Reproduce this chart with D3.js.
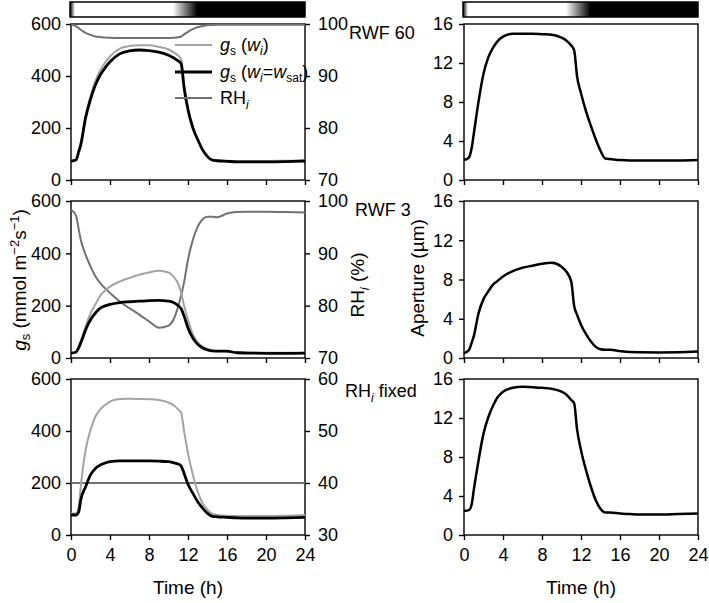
<!DOCTYPE html>
<html>
<head>
<meta charset="utf-8">
<script src="https://cdn.jsdelivr.net/npm/d3@7"></script>
<style>
  body { margin: 0; background: #fff; }
  svg { font-family: "Liberation Sans", Arial, sans-serif; }
  .axis text { font-size: 18px; fill: #000; }
  .axis path, .axis line { stroke: #000; stroke-width: 1.4px; }
</style>
</head>
<body>
<div id="chart"></div>
<script>

// Time grid (h) shared by all series
const time = [0, 0.5, 0.8, 1, 1.5, 2, 2.5, 3, 3.5, 4, 5, 6, 7, 8, 9, 10, 10.5, 11, 11.3, 11.6,
  12, 12.5, 13, 13.5, 14, 14.5, 15, 16, 17, 18, 20, 22, 24];

// RWF 60
const rwf60GsWi   = [73, 77, 112, 140, 248, 322, 380, 422, 452, 475, 505, 515, 518, 518, 512, 502, 492, 478, 465, 365,
  278, 202, 157, 118, 92, 78, 76, 74, 73, 73, 73, 74, 75];
const rwf60GsSat  = [73, 77, 110, 135, 240, 310, 365, 404, 432, 455, 485, 497, 500, 498, 492, 480, 470, 458, 447, 355,
  270, 200, 155, 116, 90, 76, 74, 72, 70, 70, 70, 71, 73];
const rwf60RH     = [99.9, 99.6, 99.2, 98.9, 98.3, 97.9, 97.6, 97.5, 97.4, 97.35, 97.3, 97.3, 97.3, 97.3, 97.3, 97.3, 97.35, 97.45, 97.6, 98.0,
  98.5, 99.0, 99.4, 99.6, 99.75, 99.8, 99.85, 99.85, 99.85, 99.85, 99.85, 99.85, 99.85];
const rwf60Aperture = [2.05, 2.3, 3.35, 4.7, 8.1, 10.9, 12.6, 13.6, 14.3, 14.7, 15.0, 15.0, 15.0, 14.95, 14.9, 14.6, 14.3, 13.8, 13.3, 10.6,
  8.9, 7.1, 5.6, 4.2, 3.0, 2.2, 2.15, 2.05, 2.0, 2.0, 2.0, 2.0, 2.05];

// RWF 3
const rwf3GsWi    = [19, 24, 45, 65, 120, 170, 205, 238, 258, 273, 292, 306, 318, 327, 333, 327, 312, 283, 250, 200,
  145, 90, 60, 44, 34, 29, 27, 25, 22, 21, 20, 20, 20];
const rwf3GsSat   = [19, 22, 40, 57, 108, 146, 172, 191, 199, 205, 212, 215, 217, 219, 220, 217, 212, 200, 188, 160,
  115, 76, 52, 38, 31, 27, 26, 26, 20, 19, 18, 18, 19];
const rwf3RH      = [98.3, 97.3, 94.5, 92.6, 89.7, 87.5, 85.6, 84.3, 83.3, 82.4, 80.8, 79.5, 78.3, 77.0, 75.8, 76.2, 77.3, 79.9, 82.0, 84.5,
  88.8, 92.6, 95.1, 96.5, 97.0, 97.0, 96.9, 97.6, 97.9, 97.95, 97.95, 97.9, 97.8];
const rwf3Aperture = [0.5, 0.8, 1.6, 2.2, 4.6, 6.0, 6.8, 7.5, 7.9, 8.3, 8.85, 9.2, 9.4, 9.6, 9.7, 9.3, 8.8, 7.8, 5.3, 4.4,
  3.4, 2.45, 1.7, 1.15, 0.9, 0.85, 0.85, 0.7, 0.6, 0.58, 0.57, 0.58, 0.65];

// RH_i fixed
const fixedGsWi   = [83, 83, 109, 186, 327, 404, 455, 483, 500, 513, 523, 524, 523, 522, 519, 509, 500, 483, 470, 400,
  314, 231, 167, 122, 96, 81, 77, 74, 73, 73, 73, 74, 77];
const fixedGsSat  = [77, 77, 90, 135, 186, 231, 256, 269, 277, 282, 285, 285, 285, 285, 284, 282, 278, 273, 265, 237,
  195, 160, 128, 103, 83, 72, 70, 68, 66, 65, 65, 66, 68];
const fixedRH     = time.map(() => 40);
const fixedAperture = [2.45, 2.55, 3.2, 4.6, 7.7, 10.4, 12.1, 13.3, 14.2, 14.7, 15.1, 15.2, 15.15, 15.1, 15.0, 14.7, 14.4, 13.85, 13.5, 10.8,
  8.7, 6.7, 5.0, 3.6, 2.7, 2.3, 2.3, 2.2, 2.15, 2.1, 2.1, 2.15, 2.2];

// Axis ticks
const timeTicks = [0, 4, 8, 12, 16, 20, 24];
const gsTicks = [0, 200, 400, 600];
const apertureTicks = [0, 4, 8, 12, 16];

// Light / dark bar: brightness (1 = light) at time points
const lightTime  = [0, 0.5, 10.5, 13, 24];
const lightLevel = [0, 1, 1, 0, 0];

const panels = [
  { label: "RWF 60", gsWi: rwf60GsWi, gsSat: rwf60GsSat, rh: rwf60RH, rhDomain: [70, 100], aperture: rwf60Aperture },
  { label: "RWF 3",  gsWi: rwf3GsWi,  gsSat: rwf3GsSat,  rh: rwf3RH,  rhDomain: [70, 100], aperture: rwf3Aperture },
  { label: "fixed",  gsWi: fixedGsWi, gsSat: fixedGsSat, rh: fixedRH, rhDomain: [30, 60],  aperture: fixedAperture }
];

const colWi = "#a3a3a3";
const colRH = "#717171";
const colSat = "#000";

const W = 709, H = 603;
const svg = d3.select("#chart").append("svg")
  .attr("width", W)
  .attr("height", H);

const leftX = d3.scaleLinear().domain([0, 24]).range([71, 305]);
const rightX = d3.scaleLinear().domain([0, 24]).range([464, 698]);
const panelY = [[24, 180], [201, 358], [379, 535]];

// Light bar gradient
const grad = svg.append("defs").append("linearGradient")
  .attr("id", "lightGrad")
  .attr("x1", "0%").attr("x2", "100%");
lightTime.forEach((t, i) => {
  const g = Math.round(lightLevel[i] * 255);
  grad.append("stop")
    .attr("offset", (t / 24 * 100) + "%")
    .attr("stop-color", `rgb(${g},${g},${g})`);
});

[leftX, rightX].forEach(x => {
  svg.append("rect")
    .attr("x", x(0) - 1)
    .attr("y", 2)
    .attr("width", x(24) - x(0) + 1)
    .attr("height", 15)
    .attr("fill", "url(#lightGrad)")
    .attr("stroke", "#000")
    .attr("stroke-width", 1.5);
});

panels.forEach((p, i) => {
  const [y0, y1] = panelY[i];
  const isBottom = i === panels.length - 1;

  const yGs = d3.scaleLinear().domain([0, 600]).range([y1, y0]);
  const yRH = d3.scaleLinear().domain(p.rhDomain).range([y1, y0]);
  const yAp = d3.scaleLinear().domain([0, 16]).range([y1, y0]);

  // ---------------- left panel ----------------
  const gL = svg.append("g");

  gL.append("g").attr("class", "axis")
    .attr("transform", `translate(0,${y1})`)
    .call(d3.axisBottom(leftX).tickValues(timeTicks).tickSize(5).tickPadding(8)
      .tickFormat(isBottom ? d3.format("d") : ""))
    .select(".domain").remove();
  gL.append("g").attr("class", "axis")
    .attr("transform", `translate(${leftX(0)},0)`)
    .call(d3.axisLeft(yGs).tickValues(gsTicks).tickSize(5).tickPadding(5))
    .select(".domain").remove();
  gL.append("g").attr("class", "axis")
    .attr("transform", `translate(${leftX(24)},0)`)
    .call(d3.axisRight(yRH).ticks(3).tickSize(5).tickPadding(8))
    .select(".domain").remove();

  gL.append("rect")
    .attr("x", leftX(0)).attr("y", y0)
    .attr("width", leftX(24) - leftX(0)).attr("height", y1 - y0)
    .attr("fill", "none").attr("stroke", "#000").attr("stroke-width", 1.4);

  const lineRH = d3.line().x((d, k) => leftX(time[k])).y(d => yRH(d)).curve(d3.curveMonotoneX);
  const lineGs = d3.line().x((d, k) => leftX(time[k])).y(d => yGs(d)).curve(d3.curveMonotoneX);

  gL.append("path").datum(p.rh)
    .attr("d", lineRH).attr("fill", "none").attr("stroke", colRH).attr("stroke-width", 2);
  gL.append("path").datum(p.gsWi)
    .attr("d", lineGs).attr("fill", "none").attr("stroke", colWi).attr("stroke-width", 2);
  gL.append("path").datum(p.gsSat)
    .attr("d", lineGs).attr("fill", "none").attr("stroke", colSat).attr("stroke-width", 2.8);

  // ---------------- right panel ----------------
  const gR = svg.append("g");

  gR.append("g").attr("class", "axis")
    .attr("transform", `translate(0,${y1})`)
    .call(d3.axisBottom(rightX).tickValues(timeTicks).tickSize(5).tickPadding(8)
      .tickFormat(isBottom ? d3.format("d") : ""))
    .select(".domain").remove();
  gR.append("g").attr("class", "axis")
    .attr("transform", `translate(${rightX(0)},0)`)
    .call(d3.axisLeft(yAp).tickValues(apertureTicks).tickSize(5).tickPadding(6))
    .select(".domain").remove();

  gR.append("rect")
    .attr("x", rightX(0)).attr("y", y0)
    .attr("width", rightX(24) - rightX(0)).attr("height", y1 - y0)
    .attr("fill", "none").attr("stroke", "#000").attr("stroke-width", 1.4);

  const lineAp = d3.line().x((d, k) => rightX(time[k])).y(d => yAp(d)).curve(d3.curveMonotoneX);
  gR.append("path").datum(p.aperture)
    .attr("d", lineAp).attr("fill", "none").attr("stroke", "#000").attr("stroke-width", 2.5);

  // panel label
  const lab = svg.append("text")
    .attr("x", i === 2 ? 345 : (i === 0 ? 349 : 355))
    .attr("y", y0 + (i === 2 ? 18 : 15))
    .attr("font-size", 18);
  if (i === 2) {
    lab.append("tspan").text("RH");
    lab.append("tspan").attr("font-style", "italic").attr("font-size", 12).attr("dy", 5).text("i");
    lab.append("tspan").attr("dy", -5).text(" fixed");
  } else {
    lab.text(p.label);
  }
});

// ---------------- legend ----------------
const legend = [
  { color: colWi, width: 2, y: 45, key: "wi" },
  { color: colSat, width: 2.8, y: 72, key: "sat" },
  { color: colRH, width: 2, y: 98, key: "rh" }
];
legend.forEach(d => {
  svg.append("line")
    .attr("x1", 175).attr("x2", 212).attr("y1", d.y).attr("y2", d.y)
    .attr("stroke", d.color).attr("stroke-width", d.width);
  const t = svg.append("text").attr("x", 220).attr("y", d.y + 6).attr("font-size", 18);
  if (d.key === "rh") {
    t.append("tspan").text("RH");
    t.append("tspan").attr("font-style", "italic").attr("font-size", 12).attr("dy", 5).text("i");
  } else {
    t.append("tspan").attr("font-style", "italic").text("g");
    t.append("tspan").attr("font-size", 12).attr("dy", 4).text("s");
    t.append("tspan").attr("dy", -4).text(" (");
    t.append("tspan").attr("font-style", "italic").text("w");
    t.append("tspan").attr("font-style", "italic").attr("font-size", 12).attr("dy", 4).text("i");
    if (d.key === "sat") {
      t.append("tspan").attr("dy", -4).text("=");
      t.append("tspan").attr("font-style", "italic").text("w");
      t.append("tspan").attr("font-size", 12).attr("dy", 4).text("sat");
    }
    t.append("tspan").attr("dy", -4).text(")");
  }
});

// ---------------- axis titles ----------------
const gsTitle = svg.append("text")
  .attr("transform", "translate(26,280) rotate(-90)")
  .attr("text-anchor", "middle")
  .attr("font-size", 19);
gsTitle.append("tspan").attr("font-style", "italic").text("g");
gsTitle.append("tspan").attr("font-size", 13).attr("dy", 4).text("s");
gsTitle.append("tspan").attr("dy", -4).text(" (mmol m");
gsTitle.append("tspan").attr("font-size", 13).attr("dy", -7).text("−2");
gsTitle.append("tspan").attr("dy", 7).text("s");
gsTitle.append("tspan").attr("font-size", 13).attr("dy", -7).text("−1");
gsTitle.append("tspan").attr("dy", 7).text(")");

const rhTitle = svg.append("text")
  .attr("transform", "translate(364,285) rotate(-90)")
  .attr("text-anchor", "middle")
  .attr("font-size", 19);
rhTitle.append("tspan").text("RH");
rhTitle.append("tspan").attr("font-style", "italic").attr("font-size", 13).attr("dy", 5).text("i");
rhTitle.append("tspan").attr("dy", -5).text(" (%)");

svg.append("text")
  .attr("transform", "translate(424,278) rotate(-90)")
  .attr("text-anchor", "middle")
  .attr("font-size", 19)
  .text("Aperture (µm)");

[leftX, rightX].forEach(x => {
  svg.append("text")
    .attr("x", (x(0) + x(24)) / 2)
    .attr("y", 594)
    .attr("text-anchor", "middle")
    .attr("font-size", 19)
    .text("Time (h)");
});
</script>
</body>
</html>
